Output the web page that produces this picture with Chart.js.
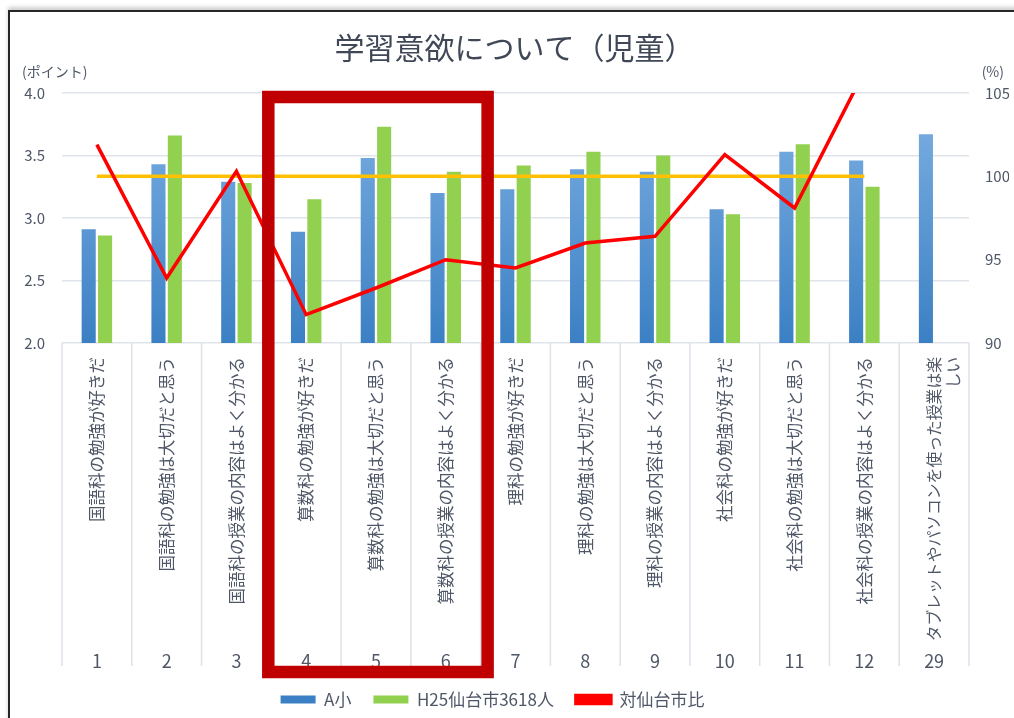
<!DOCTYPE html>
<html lang="ja">
<head>
<meta charset="utf-8">
<script src="https://cdn.jsdelivr.net/npm/chart.js@4.4.1/dist/chart.umd.min.js"></script>
<style>
html, body { margin: 0; padding: 0; background: #fff; }
#wrap { position: relative; width: 1014px; height: 718px; overflow: hidden; }
#frame { position: absolute; left: 8px; top: 10px; width: 1100px; height: 800px; border: 2px solid #262626; box-shadow: 0 -3px 4px #d0d0d0; }
#box { position: absolute; left: 0; top: 0; width: 1014px; height: 718px; }
</style>
</head>
<body>
<div id="wrap">
  <div id="frame"></div>
  <div id="box"><canvas id="chart"></canvas></div>
</div>
<script>
// data
var categories = [
  '国語科の勉強が好きだ',
  '国語科の勉強は大切だと思う',
  '国語科の授業の内容はよく分かる',
  '算数科の勉強が好きだ',
  '算数科の勉強は大切だと思う',
  '算数科の授業の内容はよく分かる',
  '理科の勉強が好きだ',
  '理科の勉強は大切だと思う',
  '理科の授業の内容はよく分かる',
  '社会科の勉強が好きだ',
  '社会科の勉強は大切だと思う',
  '社会科の授業の内容はよく分かる',
  ['タブレットやパソコンを使った授業は楽', 'しい']
];
var itemNumbers = ['1', '2', '3', '4', '5', '6', '7', '8', '9', '10', '11', '12', '29'];
var schoolA = [2.91, 3.43, 3.29, 2.89, 3.48, 3.20, 3.23, 3.39, 3.37, 3.07, 3.53, 3.46, 3.67];
var sendaiH25 = [2.86, 3.66, 3.28, 3.15, 3.73, 3.37, 3.42, 3.53, 3.50, 3.03, 3.59, 3.25, null];
var ratio = [101.9, 93.9, 100.3, 91.7, 93.3, 95.0, 94.5, 96.0, 96.4, 101.3, 98.1, 106.3, null];
var baseline = [100, 100, 100, 100, 100, 100, 100, 100, 100, 100, 100, 100, null];
var leftTicks = [2.0, 2.5, 3.0, 3.5, 4.0];
var rightTicks = [90, 95, 100, 105];

var FONT = '"Noto Sans CJK JP", "Noto Sans", sans-serif';
var TEXT = '#4f5767';
Chart.defaults.font.family = FONT;

var blueGrad = null;
function blueFill(c) {
  var area = c.chart.chartArea;
  if (!area) return '#5b9bd5';
  if (!blueGrad) {
    blueGrad = c.chart.ctx.createLinearGradient(0, area.top, 0, area.bottom);
    blueGrad.addColorStop(0, '#7fb1e3');
    blueGrad.addColorStop(1, '#3b80c4');
  }
  return blueGrad;
}

// no extra side padding from the rotated labels
function noSidePad(s) {
  s.paddingLeft = 0;
  s.paddingRight = 0;
}

// separators between categories, unit labels and the red highlight frame
var extras = {
  id: 'extras',
  afterUpdate: function(chart) {
    // the legend sits a little left of centre in the original
    chart.legend.left -= 22;
    chart.legend.right -= 22;
  },
  beforeDatasetsDraw: function(chart) {
    var ctx = chart.ctx, x = chart.scales.x, x2 = chart.scales.x2;
    var w = x.getPixelForValue(1) - x.getPixelForValue(0);
    ctx.save();
    ctx.strokeStyle = '#dde1e8';
    ctx.lineWidth = 1.5;
    for (var i = 0; i <= categories.length; i++) {
      var px = x.getPixelForValue(i) - w / 2;
      ctx.beginPath();
      ctx.moveTo(px, chart.chartArea.bottom);
      ctx.lineTo(px, x2.bottom - 3);
      ctx.stroke();
    }
    ctx.restore();
  },
  afterDraw: function(chart) {
    var ctx = chart.ctx, x = chart.scales.x, x2 = chart.scales.x2;
    var w = x.getPixelForValue(1) - x.getPixelForValue(0);
    ctx.save();
    ctx.fillStyle = TEXT;
    ctx.font = '14px ' + FONT;
    ctx.textBaseline = 'middle';
    ctx.textAlign = 'left';
    ctx.fillText('(ポイント)', 22, 72);
    ctx.textAlign = 'right';
    ctx.fillText('(%)', 1004, 72);
    var left = x.getPixelForValue(3) - w / 2 - 3;
    var right = x.getPixelForValue(5) + w / 2 + 7;
    var top = chart.chartArea.top + 4;
    var bottom = x2.bottom + 3;
    ctx.strokeStyle = '#c00000';
    ctx.lineWidth = 12.5;
    ctx.strokeRect(left, top, right - left, bottom - top);
    ctx.restore();
  }
};

var ctx = document.getElementById('chart');
new Chart(ctx, {
  type: 'bar',
  data: {
    labels: categories,
    datasets: [
      { label: 'A小', data: schoolA, backgroundColor: blueFill, xAxisID: 'x', yAxisID: 'y', order: 2 },
      { label: 'H25仙台市3618人', data: sendaiH25, backgroundColor: '#92d050', xAxisID: 'x', yAxisID: 'y', order: 3 },
      { type: 'line', label: '対仙台市比', data: ratio, borderColor: '#ff0000', backgroundColor: '#ff0000',
        borderWidth: 3.5, pointRadius: 0, tension: 0, xAxisID: 'x', yAxisID: 'y1', order: 0 },
      { type: 'line', label: '基準', data: baseline, borderColor: '#ffc000', backgroundColor: '#ffc000',
        borderWidth: 3.5, pointRadius: 0, xAxisID: 'x', yAxisID: 'y1', order: 1 }
    ]
  },
  options: {
    responsive: true,
    maintainAspectRatio: false,
    animation: false,
    layout: { padding: { left: 20, right: 5, top: 0, bottom: 0 } },
    datasets: { bar: { categoryPercentage: 0.47, barPercentage: 0.86 } },
    plugins: {
      title: {
        display: true,
        text: '学習意欲について（児童）',
        color: '#404857',
        font: { size: 30, weight: 'normal', family: FONT },
        padding: { top: 30, bottom: 27 }
      },
      legend: {
        position: 'bottom',
        labels: {
          color: TEXT,
          font: { size: 17, family: FONT },
          boxWidth: 35,
          boxHeight: 8,
          padding: 22,
          filter: function(item) { return item.text !== '基準'; },
          sort: function(a, b) { return a.datasetIndex - b.datasetIndex; }
        }
      },
      tooltip: { enabled: false }
    },
    scales: {
      x: {
        weight: 0,
        offset: true,
        grid: { display: false, drawTicks: false },
        border: { display: false },
        ticks: {
          autoSkip: false, minRotation: 90, maxRotation: 90, padding: 14, color: TEXT,
          font: function(c) { return { size: c.index === categories.length - 1 ? 15.8 : 16.5 }; }
        },
        afterFit: function(s) { s.height = 300; noSidePad(s); }
      },
      x2: {
        type: 'category',
        labels: itemNumbers,
        position: 'bottom',
        weight: 1,
        offset: true,
        grid: { display: false, drawTicks: false },
        border: { display: false },
        ticks: { padding: 7, color: TEXT, font: { size: 18 } },
        afterFit: function(s) { s.height = 26; noSidePad(s); }
      },
      y: {
        position: 'left',
        min: 2, max: 4,
        afterBuildTicks: function(s) { s.ticks = leftTicks.map(function(v) { return { value: v }; }); },
        ticks: { padding: 17, color: TEXT, font: { size: 15 }, callback: function(v) { return v.toFixed(1); } },
        grid: { color: '#dfe3ea', lineWidth: 1.5, drawTicks: false },
        border: { display: false },
        afterFit: function(s) { s.width = 42; }
      },
      y1: {
        position: 'right',
        min: 90, max: 105,
        afterBuildTicks: function(s) { s.ticks = rightTicks.map(function(v) { return { value: v }; }); },
        ticks: { padding: 16, color: TEXT, font: { size: 15 } },
        grid: { drawOnChartArea: false, drawTicks: false },
        border: { display: false },
        afterFit: function(s) { s.width = 40; }
      }
    }
  },
  plugins: [extras]
});
</script>
</body>
</html>
